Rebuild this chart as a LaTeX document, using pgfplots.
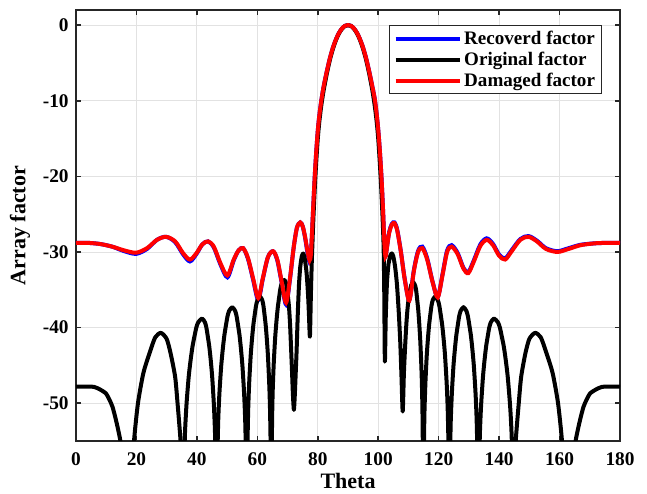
\documentclass[border=0pt]{standalone}
\usepackage{fontspec}
\setmainfont{Liberation Serif}
\usepackage{pgfplots}
\pgfplotsset{compat=1.18}
\definecolor{axgray}{RGB}{38,38,38}
\definecolor{gridgray}{RGB}{226,226,226}
\begin{document}
\begin{tikzpicture}
\begin{axis}[
  scale only axis, width=408pt, height=323.25pt,
  xmin=0, xmax=180, ymin=-55, ymax=2,
  xtick={0,20,...,180}, ytick={-50,-40,...,0},
  axis line style={axgray, line width=1.2pt},
  tick style={axgray, line width=1.2pt},
  major tick length=4pt, tick align=inside,
  grid=major, major grid style={gridgray, line width=0.6pt},
  /pgf/number format/assume math mode=true,
  ticklabel style={font=\bfseries\fontsize{14.5}{16}\selectfont, text=black},
  xticklabel style={yshift=-5pt},
  yticklabel style={xshift=-2pt},
  xlabel={Theta}, ylabel={Array factor},
  label style={font=\bfseries\fontsize{16.5}{19}\selectfont, text=black},
  xlabel style={at={(axis description cs:0.5,-0.093)}, anchor=center, inner sep=0pt},
  ylabel style={at={(axis description cs:-0.103,0.5)}, anchor=center, inner sep=0pt},
  legend style={at={(0.967,0.965)}, anchor=north east, draw=axgray, line width=0.6pt, fill=white,
    font=\bfseries\fontsize{14.3}{16}\selectfont, inner xsep=3pt, inner ysep=2pt, row sep=0.2pt},
  legend cell align=left,
  legend image code/.code={\draw[#1] (0pt,0pt) -- (48pt,0pt);},
]
\coordinate (SW) at (rel axis cs:0,0);
\coordinate (NE) at (rel axis cs:1,1);

\addplot[blue, line width=3pt, smooth, tension=0.5] coordinates {
(0,-28.8) (4,-28.8) (8,-28.95) (12,-29.3) (16,-29.9) (19.9,-30.25) (23.5,-29.6) (26.8,-28.4) (29.8,-28.0) (32.8,-28.7) (35.5,-30.35) (37.7,-31.25) (39.8,-30.3) (41.8,-29.0) (43.7,-28.6) (45.6,-29.4) (47.8,-31.65) (50.1,-33.35) (52.2,-31.1) (53.8,-29.8) (55.3,-29.5) (56.9,-30.9) (58.6,-33.65) (60.3,-36.35) (61.8,-33.6) (63.5,-30.7) (65.2,-29.9) (66.6,-31.1) (68.0,-33.95) (69.5,-36.95) (70.8,-33.6) (72.0,-29.5) (73.1,-26.8) (74.2,-26.1) (75.0,-26.6) (75.8,-28.1) (76.6,-30.1) (77.3,-31.35) (77.7,-30.5) (78.0,-28.3) (78.5,-24.0) (79.0,-20.0) (79.5,-16.7) (80.0,-14.0) (80.5,-12.0) (81.2,-9.9) (82,-8.0) (83,-6.1) (84,-4.4) (85,-3.0) (86,-1.9) (87,-1.05) (88,-0.45) (89,-0.1) (90,0) (91,-0.1) (92,-0.45) (93,-1.05) (94,-1.9) (95,-3.0) (96,-4.4) (97,-6.1) (98,-8.0) (98.9,-9.9) (99.6,-12.2) (100.1,-14.3) (100.6,-17.0) (101.1,-20.3) (101.6,-24.5) (102.0,-28.5) (102.4,-30.55) (102.9,-29.35) (103.6,-27.4) (104.5,-26.3) (105.4,-26.1) (106.3,-27.1) (107.5,-29.95) (108.8,-33.65) (110.3,-36.35) (111.8,-32.4) (113.2,-29.85) (114.6,-29.3) (116.2,-30.85) (118.0,-33.95) (119.7,-35.95) (121.3,-32.9) (122.8,-29.8) (124.3,-29.1) (126.3,-30.15) (128.2,-32.1) (129.8,-32.65) (131.6,-31.15) (133.8,-29.0) (135.9,-28.2) (138.0,-28.95) (140.0,-30.35) (142.0,-30.85) (144.0,-29.85) (147.0,-28.3) (149.7,-27.9) (152.5,-28.5) (155.5,-29.5) (159.3,-29.9) (163,-29.5) (167,-29.05) (172,-28.85) (176,-28.8) (180,-28.8)
};
\addlegendentry{Recoverd factor}

\addplot[black, line width=3pt, smooth, tension=0.4, line join=round] coordinates {
(0,-47.8) (3,-47.8) (6,-47.85) (8,-48.2) (9.9,-48.7) (11,-49.5) (12.1,-50.5) (13.5,-52.7) (14.7,-55) (15.5,-57.5) (16.5,-61) (18.0,-75)
(18.6,-60) (19.2,-55) (20.5,-50) (22.3,-46) (24.4,-43.3) (26.2,-41.3) (28.1,-40.7)
(30,-41.5) (31.3,-43.4) (32.8,-46.5) (33.6,-50) (34.6,-55) (35.0,-59) (35.4,-75)
(35.72,-59.8) (36.03,-54.3) (36.35,-51.6) (36.66,-49.6) (37.29,-46.5) (37.92,-44.3) (38.55,-42.5) (39.18,-41.2) (39.81,-40.0) (40.44,-39.3) (41.7,-38.8)
(42.66,-39.3) (43.14,-40.0) (43.62,-41.2) (44.1,-42.5) (44.58,-44.3) (45.06,-46.5) (45.54,-49.6) (45.78,-51.6) (46.02,-54.3) (46.26,-59.8) (46.5,-75)
(46.76,-58.3) (47.02,-52.8) (47.28,-50.1) (47.54,-48.1) (48.06,-45.0) (48.58,-42.8) (49.1,-41.0) (49.62,-39.7) (50.14,-38.5) (50.66,-37.8) (51.7,-37.3)
(52.66,-37.8) (53.14,-38.5) (53.62,-39.7) (54.1,-41.0) (54.58,-42.8) (55.06,-45.0) (55.54,-48.1) (55.78,-50.1) (56.02,-52.8) (56.26,-58.3) (56.5,-75)
(56.72,-56.9) (56.94,-51.4) (57.16,-48.7) (57.38,-46.7) (57.82,-43.6) (58.26,-41.4) (58.7,-39.6) (59.14,-38.3) (59.58,-37.1) (60.02,-36.4) (60.9,-35.9)
(61.64,-36.4) (62.01,-37.1) (62.38,-38.3) (62.75,-39.6) (63.12,-41.4) (63.49,-43.6) (63.86,-46.7) (64.05,-48.7) (64.23,-51.4) (64.42,-56.9) (64.6,-75)
(64.82,-54.7) (65.03,-49.2) (65.25,-46.5) (65.46,-44.5) (65.89,-41.4) (66.32,-39.2) (66.75,-37.4) (67.18,-36.1) (67.61,-34.9) (68.04,-34.2) (68.9,-33.7)
(69.54,-34.2) (70.18,-36.1) (70.5,-37.4) (70.82,-39.5) (71.14,-42.5) (71.46,-45.6) (71.78,-48.9) (72.1,-50.9)
(72.4,-48.9) (72.7,-46.0) (73.0,-43.0) (73.4,-38.0) (73.8,-34.2) (74.2,-32.0) (74.7,-30.6) (75.2,-30.2) (75.7,-30.9) (76.3,-32.8) (76.8,-35.8) (77.1,-38.5) (77.4,-41.2)
(77.7,-36.0) (78.0,-31.5) (78.5,-26.0) (79.0,-21.6) (79.5,-18.0) (80.0,-15.0) (80.5,-12.8) (81.2,-10.5) (82,-8.5) (83,-6.4) (84,-4.6) (85,-3.15) (86,-2.0) (87,-1.1) (88,-0.5) (89,-0.12) (90,0)
(91,-0.12) (92,-0.5) (93,-1.1) (94,-2.0) (95,-3.15) (96,-4.6) (97,-6.4) (98,-8.5) (98.8,-10.5) (99.5,-12.8) (100,-15.0) (100.5,-18.0) (101,-21.6) (101.5,-26.0) (101.8,-29.5) (102.0,-35.5) (102.2,-44.5)
(102.5,-38.5) (102.9,-34.0) (103.4,-31.6) (104.0,-30.5) (104.5,-30.2) (105.0,-30.6) (105.6,-32.0) (106.2,-34.3) (106.8,-38.0) (107.3,-42.0) (107.7,-46.5) (108.1,-51.1)
(108.5,-46.0) (108.9,-42.5) (109.3,-39.6) (109.7,-37.5) (110.2,-35.8) (110.9,-34.4) (111.6,-34.0) (112.26,-34.5) (112.59,-35.2) (112.92,-36.4) (113.25,-37.7) (113.58,-39.5) (113.91,-41.7) (114.24,-44.8) (114.41,-46.8) (114.57,-49.5) (114.74,-55.0) (114.9,-75)
(115.1,-56.9) (115.29,-51.4) (115.49,-48.7) (115.68,-46.7) (116.07,-43.6) (116.46,-41.4) (116.85,-39.6) (117.24,-38.3) (117.63,-37.1) (118.02,-36.4) (118.8,-35.9) (119.74,-36.4) (120.21,-37.1) (120.68,-38.3) (121.15,-39.6) (121.62,-41.4) (122.09,-43.6) (122.56,-46.7) (122.8,-48.7) (123.03,-51.4) (123.27,-56.9) (123.5,-75)
(123.74,-58.3) (123.97,-52.8) (124.21,-50.1) (124.44,-48.1) (124.91,-45.0) (125.38,-42.8) (125.85,-41.0) (126.32,-39.7) (126.79,-38.5) (127.26,-37.8) (128.2,-37.3) (129.18,-37.8) (129.67,-38.5) (130.16,-39.7) (130.65,-41.0) (131.14,-42.8) (131.63,-45.0) (132.12,-48.1) (132.37,-50.1) (132.61,-52.8) (132.86,-58.3) (133.1,-75)
(133.36,-59.8) (133.62,-54.3) (133.88,-51.6) (134.14,-49.6) (134.66,-46.5) (135.18,-44.3) (135.7,-42.5) (136.22,-41.2) (136.74,-40.0) (137.26,-39.3) (138.3,-38.8) (139.6,-39.3) (140.25,-40.0) (140.9,-41.2) (141.55,-42.5) (142.2,-44.3) (142.85,-46.5) (143.5,-49.6) (143.83,-51.6) (144.15,-54.3) (144.48,-59.8) (144.8,-75)
(145.2,-59) (145.5,-55) (146.5,-50) (147.3,-46.5) (148.7,-43.4) (150.0,-41.5) (151.9,-40.7) (153.8,-41.3) (155.6,-43.3) (157.7,-46) (159.5,-50) (160.8,-55) (161.4,-60) (162.0,-75)
(163.5,-61) (164.5,-57.5) (165.3,-55) (166.5,-52.7) (167.9,-50.5) (169,-49.5) (170.1,-48.7) (172,-48.2) (174,-47.85) (177,-47.8) (180,-47.8)
};
\addlegendentry{Original factor}

\addplot[red, line width=3pt, smooth, tension=0.5] coordinates {
(0,-28.8) (4,-28.8) (8,-28.95) (12,-29.3) (16,-29.8) (19.9,-30.1) (23.5,-29.5) (26.8,-28.4) (29.8,-28.0) (32.8,-28.6) (35.5,-30.2) (37.7,-31.0) (39.8,-30.2) (41.8,-29.0) (43.7,-28.6) (45.6,-29.3) (47.8,-31.5) (50.1,-33.1) (52.2,-31.0) (53.8,-29.8) (55.3,-29.5) (56.9,-30.8) (58.6,-33.5) (60.3,-36.1) (61.8,-33.5) (63.5,-30.7) (65.2,-29.9) (66.6,-31.0) (68.0,-33.8) (69.5,-36.7) (70.8,-33.5) (72.0,-29.5) (73.1,-26.8) (74.2,-26.1) (75.0,-26.6) (75.8,-28.0) (76.6,-29.9) (77.3,-31.1) (77.7,-30.4) (78.0,-28.3) (78.5,-24.0) (79.0,-20.0) (79.5,-16.7) (80.0,-14.0) (80.5,-12.0) (81.2,-9.9) (82,-8.0) (83,-6.1) (84,-4.4) (85,-3.0) (86,-1.9) (87,-1.05) (88,-0.45) (89,-0.1) (90,0) (91,-0.1) (92,-0.45) (93,-1.05) (94,-1.9) (95,-3.0) (96,-4.4) (97,-6.1) (98,-8.0) (98.9,-9.9) (99.6,-12.2) (100.1,-14.3) (100.6,-17.0) (101.1,-20.3) (101.6,-24.5) (102.0,-28.5) (102.4,-30.6) (102.9,-29.4) (103.6,-27.5) (104.5,-26.4) (105.4,-26.2) (106.3,-27.2) (107.5,-30.0) (108.8,-33.7) (110.3,-36.4) (111.8,-32.5) (113.2,-30.0) (114.6,-29.5) (116.2,-31.0) (118.0,-34.0) (119.7,-36.0) (121.3,-33.0) (122.8,-30.0) (124.3,-29.3) (126.3,-30.3) (128.2,-32.2) (129.8,-32.8) (131.6,-31.3) (133.8,-29.2) (135.9,-28.4) (138.0,-29.1) (140.0,-30.5) (142.0,-31.0) (144.0,-30.0) (147.0,-28.4) (149.7,-28.0) (152.5,-28.6) (155.5,-29.6) (159.3,-30.0) (163,-29.6) (167,-29.1) (172,-28.85) (176,-28.8) (180,-28.8)
};
\addlegendentry{Damaged factor}
\end{axis}
\pgfresetboundingbox
\useasboundingbox ([xshift=-57pt,yshift=-39.75pt]SW) rectangle ([xshift=20.25pt,yshift=7.5pt]NE);
\end{tikzpicture}
\end{document}
